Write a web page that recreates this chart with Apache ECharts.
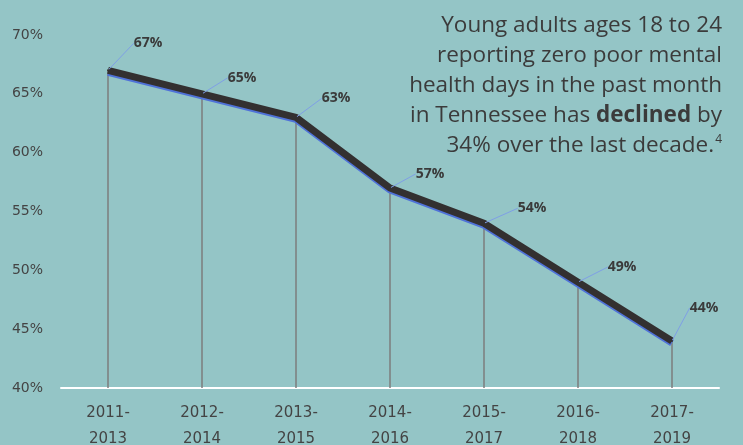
<!DOCTYPE html>
<html><head><meta charset="utf-8">
<script src="https://cdn.jsdelivr.net/npm/echarts@6/dist/echarts.min.js"></script>
<style>html,body{margin:0;padding:0;background:#94c5c6;}#c{width:743px;height:445px;}</style>
</head><body><div id="c"></div>
<script>
const categories = ['2011-\n2013','2012-\n2014','2013-\n2015','2014-\n2016','2015-\n2017','2016-\n2018','2017-\n2019'];
const values = [67, 65, 63, 57, 54, 49, 44];
const yTicks = [40, 45, 50, 55, 60, 65, 70];

const labelShift = [[40,-27],[40,-16],[40,-19],[40,-14],[48,-15],[44,-15],[32,-33]];

const chart = echarts.init(document.getElementById('c'));
const tf = 'Open Sans';
chart.setOption({
  backgroundColor: '#94c5c6',
  animation: false,
  graphic: [{
    type: 'text', right: 21, top: 14, z: 10,
    style: {
      align: 'right',
      text: '{a|Young adults ages 18 to 24}\n{a|reporting zero poor mental}\n{a|health days in the past month}\n{a|in Tennessee has }{b|declined}{a| by}\n{a|34% over the last decade.}{s|4}',
      rich: {
        a: {align: 'right', fontFamily: tf, fontSize: 22.5, fontWeight: 'normal', fill: '#3b3b3b', lineHeight: 30},
        b: {align: 'right', fontFamily: tf, fontSize: 22.5, fontWeight: 'bold', fill: '#3b3b3b', lineHeight: 30},
        s: {align: 'right', fontFamily: tf, fontSize: 12, fontWeight: 'normal', fill: '#3b3b3b', lineHeight: 30, padding: [0,0,12,1]}
      }
    }
  }],
  grid: {left: 61, right: 24, top: 35, bottom: 57, outerBoundsMode: 'none', containLabel: false},
  xAxis: {
    type: 'category', data: categories, boundaryGap: true,
    axisLine: {lineStyle: {color: '#ffffff', width: 2}},
    axisTick: {show: false},
    axisLabel: {color: '#444', fontFamily: 'DejaVu Sans', fontSize: 15, lineHeight: 26, margin: 12}
  },
  yAxis: {
    type: 'value', min: 40, max: 70, interval: 5,
    splitLine: {show: false},
    axisLine: {show: false}, axisTick: {show: false},
    axisLabel: {color: '#444', fontFamily: 'DejaVu Sans', fontSize: 14, margin: 18,
      formatter: v => yTicks.includes(v) ? v + '%' : ''}
  },
  series: [
    {
      type: 'bar', data: values, barWidth: 1.5, barGap: '-100%',
      itemStyle: {color: '#7d7d7d'}, silent: true
    },
    {
      type: 'line', data: values, showSymbol: true, symbol: 'circle', symbolSize: 2,
      lineStyle: {color: '#333030', width: 7, shadowColor: '#4f72d8', shadowOffsetY: 2, shadowBlur: 0},
      itemStyle: {color: '#333030'},
      label: {show: true, position: 'inside', formatter: '{c}%', color: '#3a3a3a',
        fontFamily: 'Open Sans', fontSize: 14, fontWeight: 'bold'},
      labelLine: {show: true, lineStyle: {color: '#7f9fe6', width: 1}},
      labelLayout: p => ({dx: labelShift[p.dataIndex][0], dy: labelShift[p.dataIndex][1]}),
      z: 5
    }
  ]
});
</script></body></html>
